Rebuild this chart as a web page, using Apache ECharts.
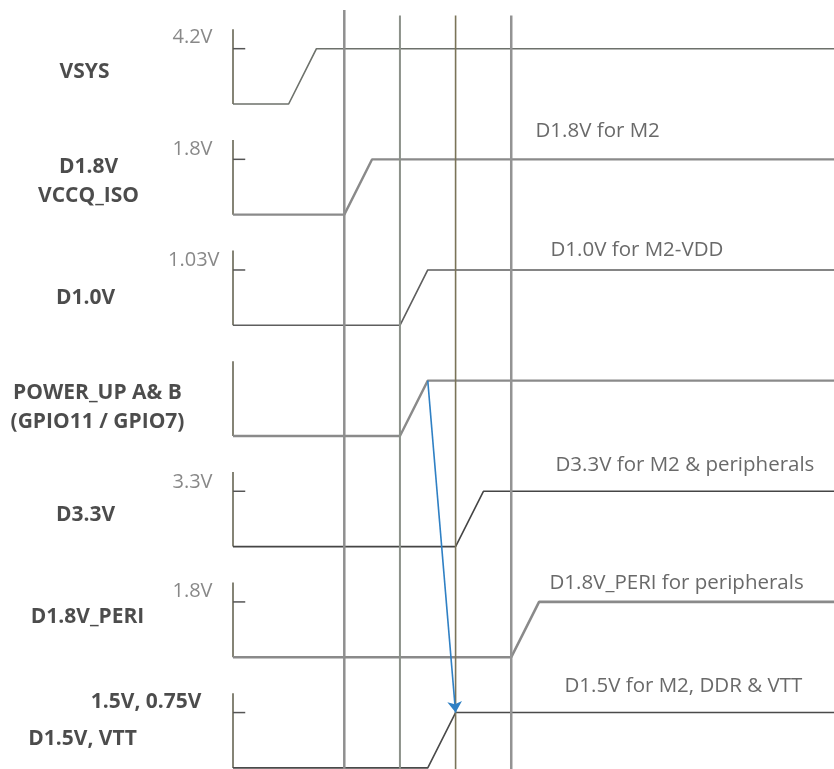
<!DOCTYPE html>
<html>
<head>
<meta charset="utf-8">
<script src="https://cdn.jsdelivr.net/npm/echarts@6/dist/echarts.min.js"></script>
<style>
html,body{margin:0;padding:0;background:#fff;}
#chart{width:834px;height:769px;}
</style>
</head>
<body>
<div id="chart"></div>
<script>
// ---- data ----
const signalNames = ['VSYS', 'D1.8V\nVCCQ_ISO', 'D1.0V', 'POWER_UP A& B\n(GPIO11 / GPIO7)', 'D3.3V', 'D1.8V_PERI', 'D1.5V, VTT'];
const levelLabels = ['4.2V', '1.8V', '1.03V', '', '3.3V', '1.8V', '1.5V, 0.75V'];
const riseStart = [1, 2, 3, 3, 4, 5, 3.5];
const riseEnd = [1.5, 2.5, 3.5, 3.5, 4.5, 5.5, 4];
const notes = ['', 'D1.8V for M2', 'D1.0V for M2-VDD', '', 'D3.3V for M2 & peripherals', 'D1.8V_PERI for peripherals', 'D1.5V for M2, DDR & VTT'];
const hasLevelTick = [true, true, true, false, true, true, true];
const eventTimes = [2, 3, 4, 5];
const arrowFromRow = 3, arrowFromTime = 3.5;
const arrowToRow = 6, arrowToTime = 4;
const T_END = 10.8;

// ---- layout / styles ----
const baseOf = i => 2 + 2 * i;          // low level of row i (row units)
const highOf = i => baseOf(i) - 1;      // high level of row i
const axisTopH = 1.35;
const tickLen = 0.22;
const eventTop = [0.3, 0.4, 0.4, 0.4];
const eventColors = ['#8f8f8f', '#8c918a', '#7a7458', '#939393'];
const eventWidths = [2.5, 2, 1.6, 2.5];
const waveColors = ['#6d716b', '#8a8a8a', '#5e5e5e', '#8a8a8a', '#454545', '#8a8a8a', '#4a4a4a'];
const waveWidths = [1.6, 2.4, 1.6, 2.4, 1.6, 2.6, 1.6];
const nameOffsets = [[-148, -31], [-144, -33], [-147, -27], [-135, -28], [-147, -31], [-145, -40], [-150, -28]];
const levelOffsets = [[-20, -66], [-20, -65], [-13, -65], [0, 0], [-20, -64], [-20, -65], [-31, -65]];
const noteOffsets = [[0, 0], [303, -83], [318, -75], [0, 0], [323, -81], [317, -74], [332, -81]];

const FONT = '"Open Sans", "Noto Sans", sans-serif';
const series = [];

// event (vertical) lines
eventTimes.forEach((t, k) => {
  series.push({
    type: 'line', symbol: 'none', silent: true, clip: false, z: 3,
    data: [[t, eventTop[k]], [t, 14.02]],
    lineStyle: { color: eventColors[k], width: eventWidths[k] }
  });
});

signalNames.forEach((name, i) => {
  const b = baseOf(i), h = highOf(i);
  // row axis
  series.push({
    type: 'line', symbol: 'none', silent: true, clip: false, z: 2,
    data: [[0, b - axisTopH], [0, b]],
    lineStyle: { color: '#5d5b48', width: 1.5 }
  });
  if (hasLevelTick[i]) {
    series.push({
      type: 'line', symbol: 'none', silent: true, clip: false, z: 2,
      data: [[0, h], [tickLen, h]],
      lineStyle: { color: '#555', width: 1.5 }
    });
  }
  // waveform
  series.push({
    type: 'line', symbol: 'none', silent: true, clip: false, z: 2,
    data: [[0, b], [riseStart[i], b], [riseEnd[i], h], [T_END, h]],
    lineStyle: { color: waveColors[i], width: waveWidths[i] }
  });
});

// labels
const anchor = (i) => [0, baseOf(i)];
series.push({
  type: 'scatter', symbolSize: 1, silent: true, z: 5,
  itemStyle: { color: 'rgba(0,0,0,0)' },
  data: signalNames.map((n, i) => ({
    value: anchor(i),
    label: {
      show: true, formatter: n, position: nameOffsets[i], align: 'center', verticalAlign: 'middle',
      fontFamily: FONT, fontWeight: 'bold', fontSize: 21, color: '#1f1f1f', lineHeight: 29
    }
  }))
});
series.push({
  type: 'scatter', symbolSize: 1, silent: true, z: 5,
  itemStyle: { color: 'rgba(0,0,0,0)' },
  data: levelLabels.map((n, i) => ({
    value: anchor(i),
    label: {
      show: n !== '', formatter: n, position: levelOffsets[i], align: 'right', verticalAlign: 'middle',
      fontFamily: FONT, fontSize: i === 6 ? 21 : 20, fontWeight: i === 6 ? 'bold' : 'normal',
      color: i === 6 ? '#1f1f1f' : '#6a6a6a'
    }
  }))
});
series.push({
  type: 'scatter', symbolSize: 1, silent: true, z: 5,
  itemStyle: { color: 'rgba(0,0,0,0)' },
  data: notes.map((n, i) => ({
    value: anchor(i),
    label: {
      show: n !== '', formatter: n, position: noteOffsets[i], align: 'left', verticalAlign: 'middle',
      fontFamily: FONT, fontSize: 20.5, color: '#444444'
    }
  }))
});

// arrow
series.push({
  type: 'lines', coordinateSystem: 'cartesian2d', silent: true, z: 6,
  symbol: ['none', 'arrow'], symbolSize: 11,
  lineStyle: { color: '#2f80c4', width: 1.6, opacity: 1, curveness: 0 },
  data: [{ coords: [[arrowFromTime, highOf(arrowFromRow)], [arrowToTime, highOf(arrowToRow)]] }]
});

const chart = echarts.init(document.getElementById('chart'), null, { renderer: 'canvas' });
chart.setOption({
  animation: false,
  backgroundColor: '#ffffff',
  grid: { left: 233, right: 0, top: 0, bottom: 0 },
  xAxis: { type: 'value', min: 0, max: T_END, show: false },
  yAxis: { type: 'value', min: 0.12, max: 14.02, inverse: true, show: false },
  series: series
});
</script>
</body>
</html>
